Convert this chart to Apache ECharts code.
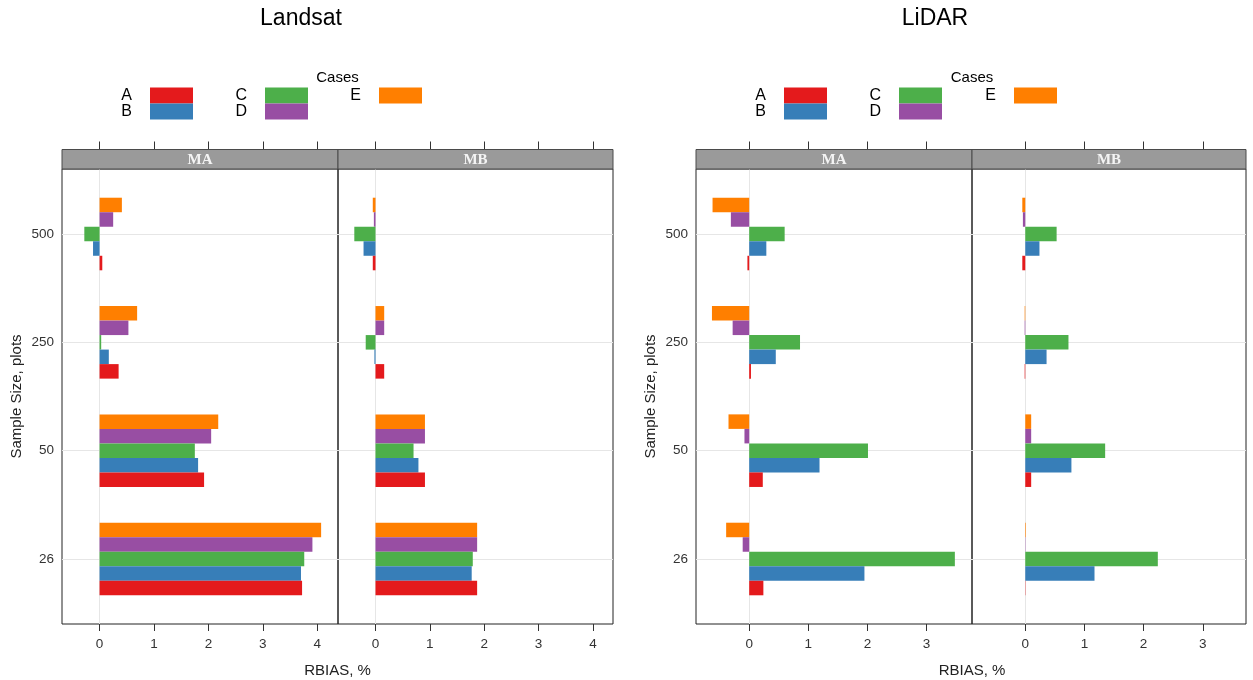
<!DOCTYPE html>
<html>
<head>
<meta charset="utf-8">
<style>html,body{margin:0;padding:0;background:#fff;}#c{width:1253px;height:680px;}</style>
<script src="https://cdn.jsdelivr.net/npm/echarts@6/dist/echarts.min.js"></script>
</head>
<body>
<div id="c"></div>
<script>
// ---- data (order of sample sizes: 26, 50, 250, 500) ----
const sampleSizes = ['26', '50', '250', '500'];
const cases = ['A', 'B', 'C', 'D', 'E'];
const caseColors = ['#E41A1C', '#377EB8', '#4DAF4A', '#984EA3', '#FF7F00'];
const xTicksLandsat = [0, 1, 2, 3, 4];
const xTicksLidar = [0, 1, 2, 3];

// rows = cases A..E, columns = sample sizes 26, 50, 250, 500
const landsatMA = [
  [3.72, 1.92, 0.35, 0.05],
  [3.70, 1.81, 0.17, -0.12],
  [3.76, 1.75, 0.03, -0.28],
  [3.91, 2.05, 0.53, 0.25],
  [4.07, 2.18, 0.69, 0.41]
];
const landsatMB = [
  [1.87, 0.91, 0.16, -0.05],
  [1.77, 0.79, -0.02, -0.22],
  [1.79, 0.70, -0.18, -0.39],
  [1.87, 0.91, 0.16, -0.03],
  [1.87, 0.91, 0.16, -0.05]
];
const lidarMA = [
  [0.24, 0.23, 0.03, -0.03],
  [1.95, 1.19, 0.45, 0.29],
  [3.48, 2.01, 0.86, 0.60],
  [-0.11, -0.08, -0.28, -0.31],
  [-0.39, -0.35, -0.63, -0.62]
];
const lidarMB = [
  [0.005, 0.10, -0.01, -0.05],
  [1.17, 0.78, 0.36, 0.24],
  [2.24, 1.35, 0.73, 0.53],
  [0.005, 0.10, -0.01, -0.04],
  [0.01, 0.10, -0.01, -0.05]
];

// ---- layout ----
const FONT = '"Liberation Sans", Arial, Helvetica, sans-serif';
const SERIF = '"Liberation Serif", "Times New Roman", serif';
const frameTop = 169, frameH = 455;
const inset = frameH / 4.2 * 0.1;
const stripTop = 149.5, stripH = frameTop - stripTop;

const panels = [
  { name: 'MA', left: 62, width: 276, min: -0.69, max: 4.38, data: landsatMA, ticks: xTicksLandsat, first: true },
  { name: 'MB', left: 338, width: 275, min: -0.69, max: 4.37, data: landsatMB, ticks: xTicksLandsat, first: false },
  { name: 'MA', left: 696, width: 276, min: -0.90, max: 3.77, data: lidarMA, ticks: xTicksLidar, first: true },
  { name: 'MB', left: 972, width: 274, min: -0.90, max: 3.73, data: lidarMB, ticks: xTicksLidar, first: false }
];

const grid = [], xAxis = [], yAxis = [], series = [], graphic = [];
panels.forEach((p, i) => {
  // frame grid (full panel, gridlines + y labels)
  grid.push({ left: p.left, top: frameTop, width: p.width, height: frameH, show: true,
    borderColor: '#222', borderWidth: 1, backgroundColor: 'rgba(0,0,0,0)', outerBoundsMode: 'none', containLabel: false });
  // bar grid (inset by 0.1 category unit top and bottom)
  grid.push({ left: p.left, top: frameTop + inset, width: p.width, height: frameH - 2 * inset,
    show: false, outerBoundsMode: 'none', containLabel: false });
  const gF = 2 * i, gB = 2 * i + 1;

  // frame x axis: vertical reference line at 0
  xAxis.push({ type: 'value', gridIndex: gF, min: p.min, max: p.max, position: 'bottom',
    axisLine: { show: false }, axisTick: { show: false, customValues: [0] },
    axisLabel: { show: false, customValues: [0] },
    splitLine: { show: true, lineStyle: { color: '#e6e6e6', width: 1 } } });
  // bar x axis (bottom, ticks + labels at panel bottom)
  xAxis.push({ type: 'value', gridIndex: gB, min: p.min, max: p.max, position: 'bottom', offset: inset,
    axisLine: { show: false },
    axisTick: { show: true, length: 7, inside: false, customValues: p.ticks, lineStyle: { color: '#333', width: 1 } },
    axisLabel: { show: true, customValues: p.ticks, margin: 13, fontSize: 13.5, color: '#333', fontFamily: FONT },
    splitLine: { show: false } });
  const xBarIdx = xAxis.length - 1;
  // top ticks above strip
  xAxis.push({ type: 'value', gridIndex: gB, min: p.min, max: p.max, position: 'top', offset: frameTop + inset - stripTop,
    axisLine: { show: false },
    axisTick: { show: true, length: 8, inside: false, customValues: p.ticks, lineStyle: { color: '#333', width: 1 } },
    axisLabel: { show: false, customValues: p.ticks },
    splitLine: { show: false } });

  // frame y axis: gridlines at category centres + labels
  yAxis.push({ type: 'value', gridIndex: gF, min: 0.4, max: 4.6,
    axisLine: { show: false }, axisTick: { show: false, customValues: [1, 2, 3, 4] },
    axisLabel: { show: p.first, customValues: [1, 2, 3, 4], margin: 8, fontSize: 13.5, color: '#333', fontFamily: FONT,
      formatter: v => sampleSizes[Math.round(v) - 1] || '' },
    splitLine: { show: true, lineStyle: { color: '#e6e6e6', width: 1 } } });
  // bar y axis: categories
  yAxis.push({ type: 'category', gridIndex: gB, data: sampleSizes, show: false,
    axisLine: { show: false }, axisTick: { show: false }, axisLabel: { show: false }, splitLine: { show: false } });
  const yBarIdx = yAxis.length - 1;

  // horizontal bars: first series is drawn on top, so add E..A to get A at the bottom
  for (let k = cases.length - 1; k >= 0; k--) {
    series.push({ type: 'bar', name: cases[k], xAxisIndex: xBarIdx, yAxisIndex: yBarIdx,
      data: p.data[k], barGap: '0%', barCategoryGap: '33%',
      itemStyle: { color: caseColors[k], borderWidth: 0 }, silent: true, animation: false });
  }

  // strip
  graphic.push({ type: 'rect', shape: { x: p.left, y: stripTop, width: p.width, height: stripH },
    style: { fill: '#9a9a9a', stroke: '#4a4a4a', lineWidth: 1 }, z: 10 });
  graphic.push({ type: 'text', x: p.left + p.width / 2, y: stripTop + stripH / 2 + 0.5, z: 11,
    style: { text: p.name, fill: '#f4f4f4', font: 'bold 15px ' + SERIF, textAlign: 'center', textVerticalAlign: 'middle' } });
});

// titles, axis names, legend headers
const figs = [
  { title: 'Landsat', titleX: 301, center: 337.5, yTitleX: 16.5, legendRight: [193, 308, 422] },
  { title: 'LiDAR', titleX: 935, center: 972, yTitleX: 651, legendRight: [827, 942, 1057] }
];
const legend = [];
const legendGroups = [['A', 'B'], ['C', 'D'], ['E']];
figs.forEach(f => {
  graphic.push({ type: 'text', x: f.titleX, y: 19, style: { text: f.title, fill: '#000', font: '23px ' + FONT, textAlign: 'center', textVerticalAlign: 'middle' } });
  graphic.push({ type: 'text', x: f.center, y: 77.5, style: { text: 'Cases', fill: '#000', font: '15px ' + FONT, textAlign: 'center', textVerticalAlign: 'middle' } });
  graphic.push({ type: 'text', x: f.center, y: 671, style: { text: 'RBIAS, %', fill: '#222', font: '15px ' + FONT, textAlign: 'center', textVerticalAlign: 'middle' } });
  graphic.push({ type: 'text', x: f.yTitleX, y: frameTop + frameH / 2, rotation: Math.PI / 2,
    style: { text: 'Sample Size, plots', fill: '#222', font: '15px ' + FONT, textAlign: 'center', textVerticalAlign: 'middle' } });
  legendGroups.forEach((g, j) => {
    legend.push({ data: g, orient: 'vertical', right: 1253 - f.legendRight[j], top: 87.5, padding: 0,
      itemGap: 0, itemWidth: 43, itemHeight: 16, align: 'right', icon: 'rect', selectedMode: false,
      itemStyle: { borderWidth: 0 },
      textStyle: { fontSize: 16, color: '#000', fontFamily: FONT, padding: [4, 13, 0, 0] } });
  });
});

const chart = echarts.init(document.getElementById('c'), null, { renderer: 'canvas' });
chart.setOption({
  animation: false,
  backgroundColor: '#ffffff',
  textStyle: { fontFamily: FONT },
  legend, grid, xAxis, yAxis, series, graphic
});
</script>
</body>
</html>
